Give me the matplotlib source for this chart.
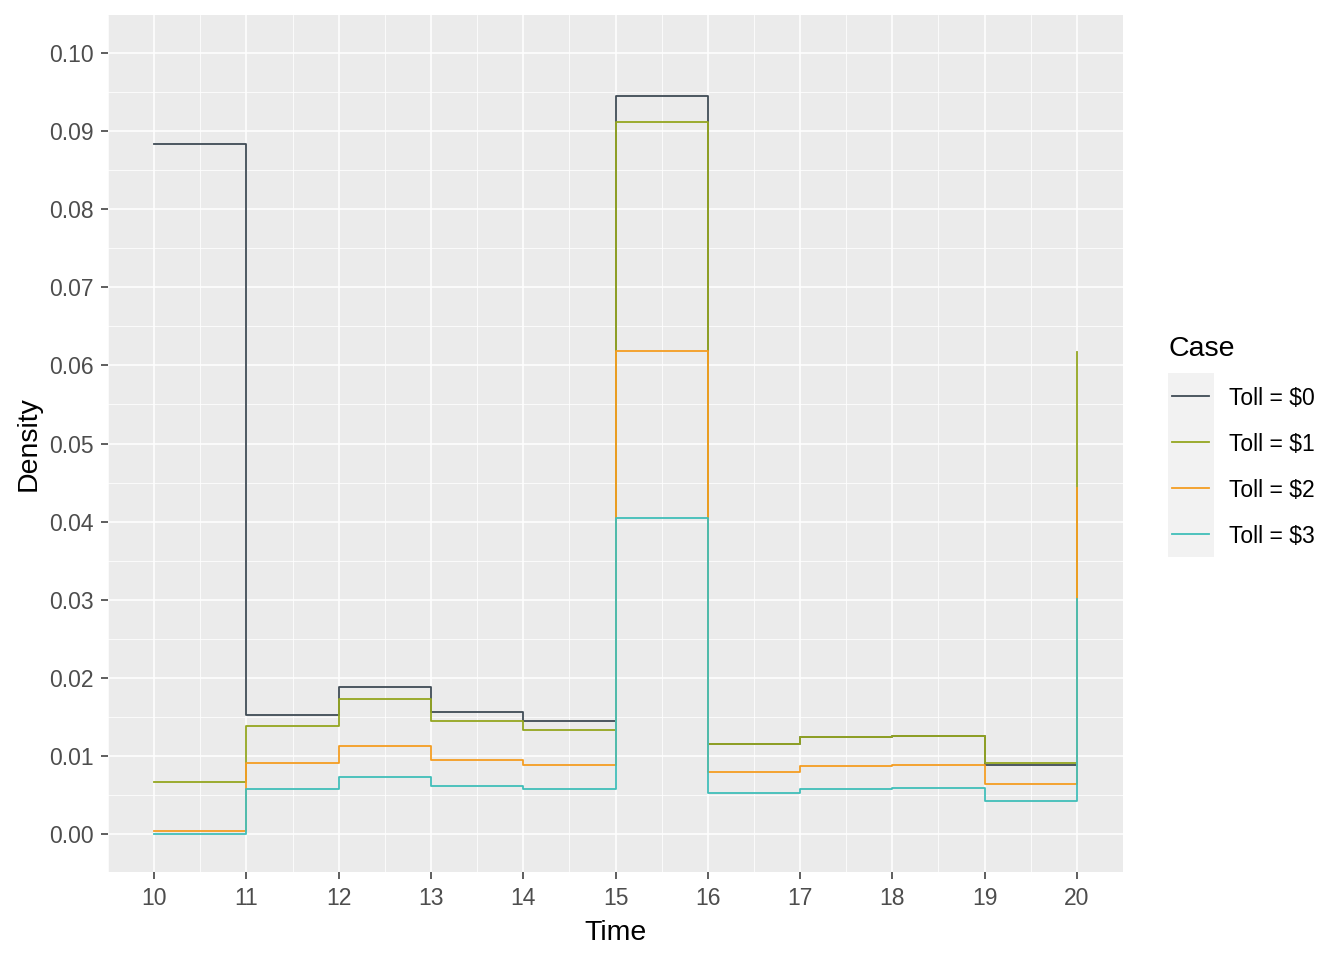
import matplotlib
matplotlib.use("Agg")
import matplotlib.pyplot as plt
from matplotlib.patches import Rectangle
from matplotlib.lines import Line2D
from matplotlib.ticker import MultipleLocator, FormatStrFormatter

plt.rcParams['font.family'] = ['Liberation Sans', 'DejaVu Sans']

# step values at hours 10..20 (value at 20 is the closing spike)
hours = [10, 11, 12, 13, 14, 15, 16, 17, 18, 19, 20]
toll0 = [0.0883, 0.01524, 0.01882, 0.01562, 0.01447, 0.0945, 0.01152, 0.01236, 0.01251, 0.00888, 0.00888]
toll1 = [0.00666, 0.01383, 0.01729, 0.01451, 0.01332, 0.0912, 0.01148, 0.01245, 0.01258, 0.00909, 0.0617]
toll2 = [0.0004, 0.00909, 0.01127, 0.00952, 0.00883, 0.0619, 0.00794, 0.00875, 0.00888, 0.00644, 0.0443]
toll3 = [0.0000, 0.00576, 0.0073, 0.00619, 0.0058, 0.0405, 0.00529, 0.00576, 0.00589, 0.00427, 0.0301]

labels = ["Toll = $0", "Toll = $1", "Toll = $2", "Toll = $3"]
colors = ["#3F4B55", "#94A620", "#F49D22", "#40BEB9"]
series = [toll0, toll1, toll2, toll3]

W, H = 1344, 960
fig = plt.figure(figsize=(W / 100, H / 100), dpi=100)
ax = fig.add_axes([108 / W, 1 - 872 / H, (1123 - 108) / W, (872 - 15) / H])

ax.set_facecolor("#EBEBEB")
for s in ax.spines.values():
    s.set_visible(False)

ax.set_xlim(9.5, 20.5)
ax.set_ylim(-0.00487, 0.10487)
ax.xaxis.set_major_locator(MultipleLocator(1))
ax.xaxis.set_minor_locator(MultipleLocator(0.5))
ax.yaxis.set_major_locator(MultipleLocator(0.01))
ax.yaxis.set_minor_locator(MultipleLocator(0.005))
ax.yaxis.set_major_formatter(FormatStrFormatter('%.2f'))

ax.grid(which='major', color='white', linewidth=1.1)
ax.grid(which='minor', color='white', linewidth=0.55)
ax.set_axisbelow(True)

ax.tick_params(which='major', length=5, width=1.1, color='#333333',
               labelsize=16.5, labelcolor='#4D4D4D')
ax.tick_params(axis='x', which='major', pad=6)
ax.tick_params(axis='y', which='major', pad=5.5)
ax.tick_params(which='minor', length=0)

for vals, c, lab in zip(series, colors, labels):
    ax.step(hours, vals, where='post', color=c, linewidth=1.3, label=lab)

ax.set_xlabel("Time", fontsize=20.5, color='black', labelpad=7)
ax.set_ylabel("Density", fontsize=20.5, color='black', labelpad=5)

# legend drawn by hand to mimic ggplot keys
def fx(px):
    return px / W

def fy(py):
    return 1 - py / H

fig.text(fx(1168), fy(356), "Case", fontsize=20.5, va='baseline', ha='left')
fig.patches.append(Rectangle((fx(1168), fy(556.7)), fx(46), 184 / H,
                             transform=fig.transFigure, facecolor='#F2F2F2',
                             edgecolor='none'))
for i, (c, lab) in enumerate(zip(colors, labels)):
    yc = 372.7 + 23 + 46 * i
    fig.lines.append(Line2D([fx(1172), fx(1209)], [fy(yc), fy(yc)],
                            transform=fig.transFigure, color=c, linewidth=1.3))
    fig.text(fx(1229), fy(yc + 9.3), lab, fontsize=16.5, va='baseline', ha='left')

fig.savefig("out.png", dpi=100, facecolor='white')
